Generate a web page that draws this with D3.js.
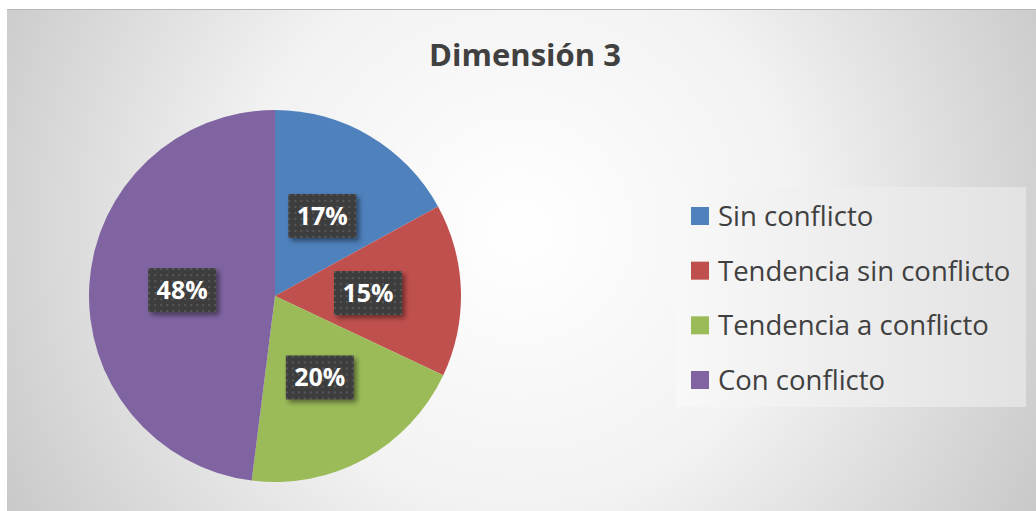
<!DOCTYPE html>
<html>
<head>
<meta charset="utf-8">
<script src="https://cdn.jsdelivr.net/npm/d3@7"></script>
<style>
  body { margin: 0; background: #fff; }
  svg { display: block; }
</style>
</head>
<body>
<script>
const width = 1036, height = 511;

const title = "Dimensión 3";
const categories = ["Sin conflicto", "Tendencia sin conflicto", "Tendencia a conflicto", "Con conflicto"];
const values = [17, 15, 20, 48];
const colors = ["#4f81bd", "#c0504d", "#9bbb59", "#8064a2"];

const cx = 275, cy = 296, radius = 186;

const svg = d3.select("body").append("svg")
    .attr("width", width)
    .attr("height", height);

const defs = svg.append("defs");

const bg = defs.append("radialGradient")
    .attr("id", "bg")
    .attr("gradientUnits", "userSpaceOnUse")
    .attr("cx", 520).attr("cy", 230).attr("r", 620);
bg.append("stop").attr("offset", "0%").attr("stop-color", "#ffffff");
bg.append("stop").attr("offset", "45%").attr("stop-color", "#f2f2f2");
bg.append("stop").attr("offset", "100%").attr("stop-color", "#c4c4c4");

const lg = defs.append("linearGradient")
    .attr("id", "legbg")
    .attr("x1", 0).attr("x2", 1).attr("y1", 0).attr("y2", 0);
lg.append("stop").attr("offset", "0%").attr("stop-color", "#f8f8f8");
lg.append("stop").attr("offset", "100%").attr("stop-color", "#e2e2e2");

const pat = defs.append("pattern")
    .attr("id", "dots")
    .attr("patternUnits", "userSpaceOnUse")
    .attr("width", 6).attr("height", 6);
pat.append("rect").attr("width", 6).attr("height", 6).attr("fill", "#3e3e3e");
pat.append("rect").attr("x", 2).attr("y", 2).attr("width", 2).attr("height", 2).attr("fill", "#575757");

const shadow = defs.append("filter")
    .attr("id", "shadow")
    .attr("x", "-20%").attr("y", "-20%").attr("width", "150%").attr("height", "160%");
shadow.append("feDropShadow")
    .attr("dx", 3).attr("dy", 3).attr("stdDeviation", 2.5)
    .attr("flood-color", "#000").attr("flood-opacity", 0.45);

// chart area
svg.append("rect")
    .attr("x", 7).attr("y", 9)
    .attr("width", width - 7).attr("height", height - 9)
    .attr("fill", "url(#bg)");
svg.append("line")
    .attr("x1", 7).attr("x2", width)
    .attr("y1", 9.5).attr("y2", 9.5)
    .attr("stroke", "#b8b8b8");

svg.append("text")
    .attr("x", 525)
    .attr("y", 66)
    .attr("text-anchor", "middle")
    .attr("font-family", "'Open Sans', sans-serif")
    .attr("font-weight", "bold")
    .attr("font-size", 31)
    .attr("fill", "#404040")
    .text(title);

const pie = d3.pie().sort(null).value(d => d);
const arcs = pie(values);
const arc = d3.arc().innerRadius(0).outerRadius(radius);

const g = svg.append("g")
    .attr("transform", "translate(" + cx + "," + cy + ")");

g.selectAll(".slice")
    .data(arcs)
    .enter()
    .append("path")
    .attr("class", "slice")
    .attr("d", arc)
    .attr("fill", (d, i) => colors[i]);

const lr = 93;
const labels = g.selectAll(".lbl")
    .data(arcs)
    .enter()
    .append("g")
    .attr("class", "lbl")
    .attr("transform", function(d) {
        const a = (d.startAngle + d.endAngle) / 2;
        return "translate(" + (Math.sin(a) * lr) + "," + (-Math.cos(a) * lr) + ")";
    });
labels.append("rect")
    .attr("x", -34).attr("y", -22)
    .attr("width", 68).attr("height", 44)
    .attr("fill", "url(#dots)")
    .attr("filter", "url(#shadow)");
labels.append("text")
    .attr("text-anchor", "middle")
    .attr("dy", "0.36em")
    .attr("font-family", "'Open Sans', sans-serif")
    .attr("font-weight", "bold")
    .attr("font-size", 25)
    .attr("fill", "#ffffff")
    .text(d => d.data + "%");

// legend
const legend = svg.append("g");
legend.append("rect")
    .attr("x", 676).attr("y", 187)
    .attr("width", 350).attr("height", 220)
    .attr("fill", "url(#legbg)");

const ly = d3.scalePoint()
    .domain(categories)
    .range([216, 380]);

const items = legend.selectAll(".item")
    .data(categories)
    .enter()
    .append("g")
    .attr("class", "item")
    .attr("transform", d => "translate(691," + ly(d) + ")");
items.append("rect")
    .attr("x", 0).attr("y", -9)
    .attr("width", 18).attr("height", 18)
    .attr("fill", (d, i) => colors[i]);
items.append("text")
    .attr("x", 27)
    .attr("dy", "0.36em")
    .attr("font-family", "'Open Sans', sans-serif")
    .attr("font-size", 27.5)
    .attr("fill", "#404040")
    .text(d => d);
</script>
</body>
</html>
